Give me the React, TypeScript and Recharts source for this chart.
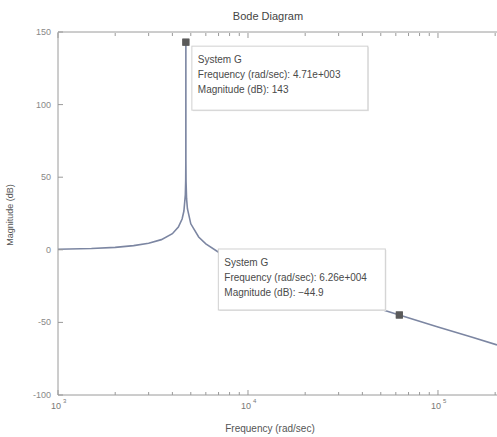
import { ComposedChart, Line, Scatter, XAxis, YAxis, ReferenceDot } from 'recharts';

// frequency (rad/sec) and magnitude (dB)
const freq = [1000, 1500, 2000, 2500, 3000, 3500, 4000, 4300, 4500, 4600, 4680, 4700, 4708, 4710, 4712, 4720, 4750, 4800, 5000, 5500, 6000, 7000, 8000, 10000, 15000, 20000, 30000, 40000, 62600, 100000, 150000, 204500];
const mag = [0.4, 0.9, 1.7, 2.9, 4.5, 7.0, 11.1, 15.6, 21.2, 26.7, 37.9, 47.4, 61.4, 143, 61.4, 47.4, 35.4, 28.3, 17.9, 8.8, 4.1, -1.7, -5.5, -10.9, -19.2, -24.6, -32.0, -37.0, -44.9, -53.1, -60.1, -65.5];

// data tips
const tipFreq = [4710, 62600];
const tipMag = [143, -44.9];
const tipFreqText = ['4.71e+003', '6.26e+004'];
const tipMagText = ['143', '\u221244.9'];

const xTicks = [1000, 2000, 3000, 4000, 5000, 6000, 7000, 8000, 9000, 10000, 20000, 30000, 40000, 50000, 60000, 70000, 80000, 90000, 100000, 200000];
const yTicks = [-100, -50, 0, 50, 100, 150];

const data = freq.map((f, i) => ({ freq: f, mag: mag[i] }));
const tips = tipFreq.map((f, i) => ({ freq: f, mag: tipMag[i] }));

const FONT = '"Liberation Sans", Arial, sans-serif';
const AXIS = '#9a9a9a';

const isDecade = (v: number) => Math.abs(Math.log10(v) - Math.round(Math.log10(v))) < 1e-9;

const BottomTick = (props: any) => {
  const { x, y, payload } = props;
  const v = payload.value;
  const major = isDecade(v);
  return (
    <g>
      <line x1={x} y1={y} x2={x} y2={y - (major ? 5 : 3)} stroke={AXIS} />
      {major && (
        <text fontFamily={FONT} fill="#777" fontSize={9}>
          <tspan x={x - 2} y={y + 14} textAnchor="middle">10</tspan>
          <tspan x={x + 5} y={y + 8} fontSize={6}>{Math.round(Math.log10(v))}</tspan>
        </text>
      )}
    </g>
  );
};

const TopTick = (props: any) => {
  const { x, y, payload } = props;
  const major = isDecade(payload.value);
  return <line x1={x} y1={y + 1} x2={x} y2={y + 1 + (major ? 5 : 3)} stroke={AXIS} />;
};

const LeftTick = (props: any) => {
  const { x, y, payload } = props;
  const v = payload.value;
  return (
    <g>
      <line x1={x} y1={y} x2={x + 5} y2={y} stroke={AXIS} />
      <text x={x - 7} y={y + 3} textAnchor="end" fontFamily={FONT} fontSize={9} fill="#888">
        {v < 0 ? '-' + Math.abs(v) : v}
      </text>
    </g>
  );
};

const Marker = (props: any) => (
  <rect x={props.cx - 3.5} y={props.cy - 3.5} width={7} height={7} fill="#5a5a5a" />
);

const makeTip = (i: number, dx: number, dy: number, w: number, h: number) => (props: any) => {
  const { cx, cy } = props;
  const left = cx + dx;
  const top = cy + dy;
  return (
    <g fontFamily={FONT} fontSize={10} fill="#4a4a4a">
      <rect x={left + 1} y={top + 1} width={w} height={h} fill="#e4e4e4" />
      <rect x={left} y={top} width={w} height={h} fill="#ffffff" stroke="#d0d0d0" />
      <text x={left + 6} y={top + 17}>System G</text>
      <text x={left + 6} y={top + 32}>Frequency (rad/sec): {tipFreqText[i]}</text>
      <text x={left + 6} y={top + 47}>Magnitude (dB): {tipMagText[i]}</text>
      <rect x={cx - 3.5} y={cy - 3.5} width={7} height={7} fill="#5a5a5a" />
    </g>
  );
};

export default function App() {
  return (
    <div style={{ position: 'absolute', left: 0, top: 0, width: 497, height: 437, background: '#fff', overflow: 'hidden' }}>
      <ComposedChart width={497} height={437} data={data} margin={{ top: 30, right: 0, bottom: 0, left: 0 }}>
        <XAxis
          dataKey="freq"
          type="number"
          scale="log"
          domain={[1000, 204500]}
          allowDataOverflow
          ticks={xTicks}
          interval={0}
          height={42}
          tickSize={0}
          tickMargin={0}
          tickLine={false}
          tick={<BottomTick />}
          axisLine={{ stroke: AXIS }}
          label={(p: any) => (
            <text x={270} y={p.viewBox.y + 37} textAnchor="middle" fontFamily={FONT} fontSize={10} fill="#555">
              Frequency (rad/sec)
            </text>
          )}
        />
        <XAxis
          xAxisId="top"
          dataKey="freq"
          orientation="top"
          type="number"
          scale="log"
          domain={[1000, 204500]}
          allowDataOverflow
          ticks={xTicks}
          interval={0}
          height={2}
          tickSize={0}
          tickMargin={0}
          tickLine={false}
          tick={<TopTick />}
          axisLine={{ stroke: AXIS }}
          label={(p: any) => (
            <text x={268} y={20} textAnchor="middle" fontFamily={FONT} fontSize={11} fill="#444">
              Bode Diagram
            </text>
          )}
        />
        <YAxis
          type="number"
          domain={[-100, 150]}
          ticks={yTicks}
          interval={0}
          width={58}
          tickSize={0}
          tickMargin={0}
          tickLine={false}
          tick={<LeftTick />}
          axisLine={{ stroke: AXIS }}
          label={(p: any) => (
            <text
              x={13}
              y={215}
              transform="rotate(-90 13 215)"
              textAnchor="middle"
              fontFamily={FONT}
              fontSize={9}
              fill="#555"
            >
              Magnitude (dB)
            </text>
          )}
        />
        <Line
          type="linear"
          dataKey="mag"
          stroke="#7c86a2"
          strokeWidth={1.6}
          dot={false}
          isAnimationActive={false}
        />
        <Scatter data={tips} dataKey="mag" shape={<Marker />} isAnimationActive={false} />
        <ReferenceDot x={tipFreq[0]} y={tipMag[0]} shape={makeTip(0, 6, 4, 176, 64)} />
        <ReferenceDot x={tipFreq[1]} y={tipMag[1]} shape={makeTip(1, -181, -66, 167, 61)} />
      </ComposedChart>
    </div>
  );
}
